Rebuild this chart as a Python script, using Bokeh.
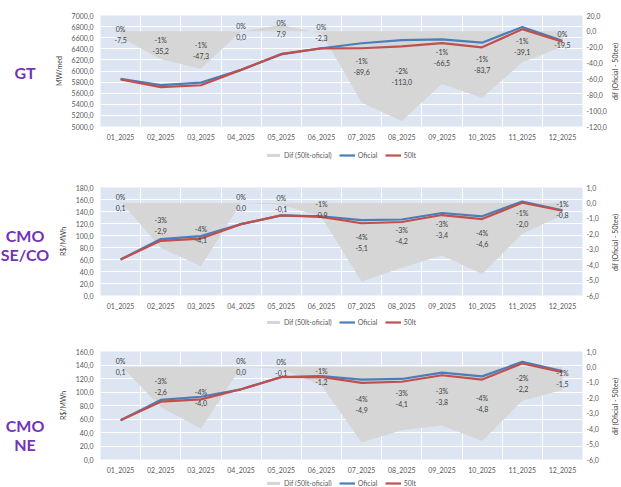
from bokeh.plotting import figure
from bokeh.models import (ColumnDataSource, Range1d, LinearAxis, SingleIntervalTicker, FixedTicker,
                          CustomJSTickFormatter, Legend, LegendItem, Div)
from bokeh.layouts import column, row
from bokeh.embed import file_html
from bokeh.resources import INLINE
from bokeh.core.properties import value

months = ["01_2025", "02_2025", "03_2025", "04_2025", "05_2025", "06_2025",
          "07_2025", "08_2025", "09_2025", "10_2025", "11_2025", "12_2025"]

# GT (MW/med)
gt_oficial = [5858, 5745, 5790, 6020, 6300, 6410, 6500, 6558, 6570, 6510, 6793, 6545]
gt_50lt = [5850, 5710, 5743, 6020, 6308, 6408, 6410, 6445, 6503, 6426, 6754, 6526]
gt_dif = [-7.5, -35.2, -47.3, 0.0, 7.9, -2.3, -89.6, -113.0, -66.5, -83.7, -39.1, -19.5]
gt_pct = ["0%", "-1%", "-1%", "0%", "0%", "0%", "-1%", "-2%", "-1%", "-1%", "-1%", "0%"]

# CMO SE/CO (R$/MWh)
seco_oficial = [60.0, 94.0, 99.0, 119.0, 133.6, 132.0, 125.5, 126.7, 137.5, 132.0, 156.6, 142.0]
seco_50lt = [60.1, 91.1, 94.9, 119.0, 133.5, 131.1, 120.4, 122.5, 134.1, 127.4, 154.6, 141.2]
seco_dif = [0.1, -2.9, -4.1, 0.0, -0.1, -0.9, -5.1, -4.2, -3.4, -4.6, -2.0, -0.8]
seco_pct = ["0%", "-3%", "-4%", "0%", "0%", "-1%", "-4%", "-3%", "-3%", "-4%", "-1%", "-1%"]

# CMO NE (R$/MWh)
ne_oficial = [58.0, 88.3, 93.0, 104.0, 122.2, 123.6, 118.4, 119.3, 128.6, 123.2, 144.6, 131.0]
ne_50lt = [58.1, 85.7, 89.0, 104.0, 122.1, 122.4, 113.5, 115.2, 124.8, 118.4, 142.4, 129.5]
ne_dif = [0.1, -2.6, -4.0, 0.0, -0.1, -1.2, -4.9, -4.1, -3.8, -4.8, -2.2, -1.5]
ne_pct = ["0%", "-3%", "-4%", "0%", "0%", "-1%", "-4%", "-3%", "-3%", "-4%", "-2%", "-1%"]

legend_labels = ["Dif (50lt-oficial)", "Oficial", "50lt"]

FONT = "Lato"
BIG_FONT = "Lato"
PURPLE = "#7432B8"
BLUE = "#4A7EBB"
RED = "#C0504D"
AREA = "#D6D6D6"
BG = "#DCE5F1"
TICK_C = "#595959"
LAB_C = "#404040"

TOTAL_W = 620
LEFT_W = 50
RIGHT_W = 9
FIG_W = TOTAL_W - LEFT_W - RIGHT_W


def legend_strip(height, bottom_y):
    lf = figure(width=TOTAL_W, height=height, output_backend="svg", toolbar_location=None,
                x_range=Range1d(0, 1), y_range=Range1d(0, 1), x_axis_location=None,
                y_axis_location=None, min_border=0, outline_line_color=None,
                background_fill_color="white", border_fill_color="white", margin=0)
    lf.xgrid.visible = False
    lf.ygrid.visible = False
    # sample marks kept outside the visible range: they only feed the legend swatches
    off = ColumnDataSource(dict(x=[-3, -2], y=[-3, -3], y2=[-2, -2]))
    a = lf.varea(x="x", y1="y", y2="y2", source=off, fill_color=AREA)
    b = lf.line("x", "y", source=off, line_color=BLUE, line_width=2.2)
    c = lf.line("x", "y", source=off, line_color=RED, line_width=2.2)
    legend = Legend(items=[LegendItem(label=legend_labels[0], renderers=[a]),
                           LegendItem(label=legend_labels[1], renderers=[b]),
                           LegendItem(label=legend_labels[2], renderers=[c])],
                    location=(265, bottom_y), orientation="horizontal",
                    padding=0, margin=0, spacing=7, glyph_width=16, glyph_height=4,
                    label_standoff=3, label_height=8, label_text_font=FONT,
                    label_text_font_size="7px", label_text_color=TICK_C,
                    background_fill_alpha=0, border_line_alpha=0)
    lf.add_layout(legend)
    return lf


def make_panel(title_lines, title_top, ylabel, left_rng, left_step, dif_rng, dif_step,
               oficial, lt, dif, pct, height, top, bottom):
    n = len(months)
    p = figure(width=FIG_W, height=height, output_backend="svg", toolbar_location=None,
               x_range=Range1d(0, n), y_range=Range1d(*left_rng),
               min_border_left=50, min_border_right=29, min_border_top=top, min_border_bottom=bottom,
               background_fill_color=BG, border_fill_color="white", outline_line_color=None,
               margin=0)
    p.extra_y_ranges = {"dif": Range1d(*dif_rng)}
    xs = [i + 0.5 for i in range(n)]
    src = ColumnDataSource(dict(
        x=xs, oficial=oficial, lt=lt, dif=dif, mid=[d / 2 for d in dif], pct=pct,
        lab=[f"{d:.1f}".replace(".", ",") for d in dif]))

    p.varea(x="x", y1=0, y2="dif", source=src, y_range_name="dif",
            fill_color=AREA, fill_alpha=1.0)
    p.line("x", "oficial", source=src, line_color=BLUE, line_width=2.2)
    p.line("x", "lt", source=src, line_color=RED, line_width=2.2)

    p.text(x="x", y="mid", text="pct", source=src, y_range_name="dif", y_offset=-5.5,
           text_align="center", text_baseline="middle", text_font=value(FONT),
           text_font_size="7px", text_color=LAB_C)
    p.text(x="x", y="mid", text="lab", source=src, y_range_name="dif", y_offset=5.5,
           text_align="center", text_baseline="middle", text_font=value(FONT),
           text_font_size="7px", text_color=LAB_C)

    p.xaxis.ticker = FixedTicker(ticks=xs)
    p.xaxis.formatter = CustomJSTickFormatter(args=dict(labels=months),
                                              code="return labels[Math.floor(tick)];")
    p.xgrid.ticker = FixedTicker(ticks=list(range(n + 1)))
    p.xgrid.grid_line_color = "white"
    p.ygrid.grid_line_color = "white"

    left = p.yaxis[0]
    left.ticker = SingleIntervalTicker(interval=left_step)
    left.formatter = CustomJSTickFormatter(code="return tick.toFixed(1).replace('.', ',');")
    left.axis_label = ylabel

    right = LinearAxis(y_range_name="dif", ticker=SingleIntervalTicker(interval=dif_step),
                       formatter=CustomJSTickFormatter(code="return tick.toFixed(1).replace('.', ',');"))
    p.add_layout(right, "right")

    for ax in p.xaxis + p.yaxis:
        ax.axis_line_color = None
        ax.major_tick_line_color = None
        ax.minor_tick_line_color = None
        ax.major_tick_out = 0
        ax.major_tick_in = 0
        ax.minor_tick_out = 0
        ax.major_label_text_font = FONT
        ax.major_label_text_font_size = "7px"
        ax.major_label_text_color = TICK_C
        ax.axis_label_text_font = FONT
        ax.axis_label_text_font_size = "7px"
        ax.axis_label_text_font_style = "normal"
        ax.axis_label_text_color = LAB_C
    p.xaxis.major_label_standoff = 6
    left.major_label_standoff = 7
    left.axis_label_standoff = 6
    right.major_label_standoff = 4

    lines_html = "".join(f"<div>{t}</div>" for t in title_lines)
    left_div = Div(
        text=(f'<div style="width:{LEFT_W}px; padding-top:{title_top}px; '
              f'text-align:center; font-family:\'{BIG_FONT}\'; font-weight:bold; font-size:16px; '
              f'line-height:19px; color:{PURPLE}; white-space:nowrap;">{lines_html}</div>'),
        width=LEFT_W, height=height, margin=0)
    frame_h = height - top - bottom
    right_div = Div(
        text=(f'<div style="margin-top:{top}px; height:{frame_h}px; width:{RIGHT_W}px; '
              f'writing-mode:vertical-rl; transform:rotate(180deg); text-align:center; '
              f'font-family:\'{FONT}\'; font-size:7px; line-height:{RIGHT_W}px; color:{LAB_C}; '
              f'white-space:nowrap;">dif (Oficial - 50tee)</div>'),
        width=RIGHT_W, height=height, margin=0)
    return row(left_div, p, right_div, spacing=0)


r1 = make_panel(["GT"], 63, "MW/med", (5000, 7000), 200, (-120, 20), 20,
                gt_oficial, gt_50lt, gt_dif, gt_pct, height=143, top=15, bottom=15)
r2 = make_panel(["CMO", "SE/CO"], 61, "R$/MWh", (0, 180), 20, (-6, 1), 1,
                seco_oficial, seco_50lt, seco_dif, seco_pct, height=147, top=22, bottom=15)
r3 = make_panel(["CMO", "NE"], 87, "R$/MWh", (0, 160), 20, (-6, 1), 1,
                ne_oficial, ne_50lt, ne_dif, ne_pct, height=147, top=22, bottom=15)

layout = column(r1, legend_strip(22, 6), r2, legend_strip(17, 3), r3, legend_strip(10, -1),
                spacing=0)
open("out.html", "w").write(file_html(layout, INLINE))
